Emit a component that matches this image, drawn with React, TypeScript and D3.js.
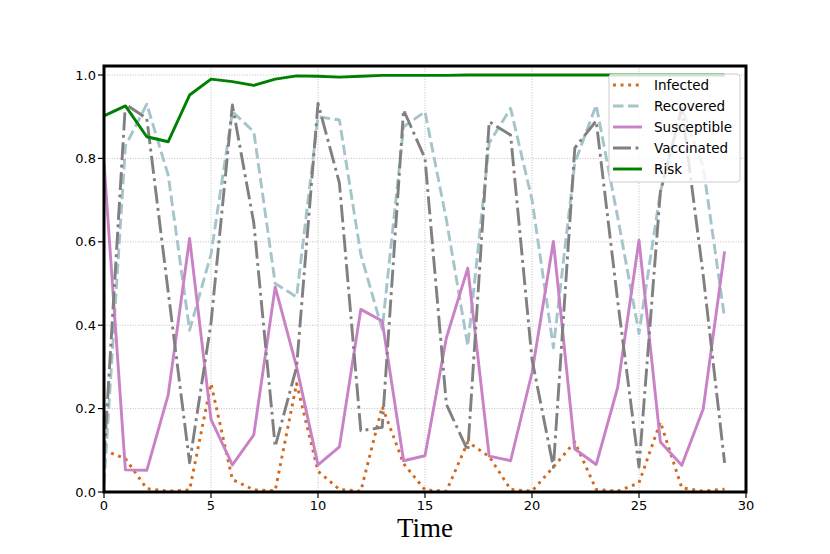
import React from "react";
import * as d3 from "d3";

// time steps 0..29
const steps = d3.range(0, 30);

const infected = [0.1, 0.08, 0.008, 0.002, 0.005, 0.26, 0.03, 0.005, 0.003, 0.26, 0.05, 0.006, 0.002, 0.205, 0.068, 0.005, 0.002, 0.12, 0.085, 0.006, 0.002, 0.06, 0.12, 0.006, 0.002, 0.022, 0.168, 0.01, 0.002, 0.007];
const recovered = [0.02, 0.83, 0.93, 0.76, 0.388, 0.57, 0.912, 0.864, 0.5, 0.468, 0.9, 0.892, 0.57, 0.39, 0.876, 0.912, 0.653, 0.35, 0.837, 0.92, 0.701, 0.346, 0.789, 0.928, 0.66, 0.38, 0.72, 0.92, 0.78, 0.417];
const susceptible = [0.79, 0.053, 0.052, 0.233, 0.608, 0.174, 0.065, 0.137, 0.492, 0.3, 0.065, 0.108, 0.438, 0.41, 0.075, 0.087, 0.37, 0.537, 0.086, 0.075, 0.286, 0.601, 0.103, 0.066, 0.25, 0.604, 0.12, 0.064, 0.199, 0.577];
const vaccinated = [0.08, 0.93, 0.896, 0.48, 0.07, 0.405, 0.928, 0.645, 0.109, 0.3, 0.932, 0.741, 0.147, 0.155, 0.916, 0.8, 0.21, 0.099, 0.888, 0.856, 0.318, 0.059, 0.825, 0.89, 0.46, 0.06, 0.72, 0.92, 0.52, 0.07];
const risk = [0.902, 0.926, 0.852, 0.84, 0.952, 0.99, 0.984, 0.975, 0.99, 0.998, 0.997, 0.995, 0.997, 0.999, 0.999, 0.999, 0.999, 1.0, 1.0, 1.0, 1.0, 1.0, 1.0, 1.0, 1.0, 1.0, 1.0, 1.0, 1.0, 1.0];

const xTicks = [0, 5, 10, 15, 20, 25, 30];
const yTicks = [0, 0.2, 0.4, 0.6, 0.8, 1.0];

const series = [
  { name: "Infected", values: infected, color: "#d2691e", dash: "2.9 4.7" },
  { name: "Recovered", values: recovered, color: "#a5c5ca", dash: "10.5 4.5" },
  { name: "Susceptible", values: susceptible, color: "#c982c6", dash: "" },
  { name: "Vaccinated", values: vaccinated, color: "#808080", dash: "18 4.5 2.9 4.5" },
  { name: "Risk", values: risk, color: "#008000", dash: "" },
];

const W = 830;
const H = 554;
const left = 104, right = 746, top = 66, bottom = 492;

export default function App() {
  const x = d3.scaleLinear().domain([0, 30]).range([left, right]);
  const y = d3.scaleLinear().domain([0, 1.0216]).range([bottom, top]);

  const line = d3
    .line<number>()
    .x((_, i) => x(steps[i]))
    .y((d) => y(d));

  const font = "'DejaVu Sans', sans-serif";

  // legend layout
  const lgX = 609, lgY = 74, lgW = 131, lgH = 108, rowH = 21;

  return (
    <div style={{ position: "fixed", left: 0, top: 0 }}>
      <svg width={W} height={H} style={{ display: "block", background: "#fff" }}>
        <defs>
          <clipPath id="plot">
            <rect x={left} y={top} width={right - left} height={bottom - top} />
          </clipPath>
        </defs>

        {/* grid */}
        <g stroke="#b0b0b0" strokeWidth={0.8} strokeDasharray="1 1.6">
          {xTicks.map((t) => (
            <line key={"gx" + t} x1={x(t)} x2={x(t)} y1={top} y2={bottom} />
          ))}
          {yTicks.map((t) => (
            <line key={"gy" + t} x1={left} x2={right} y1={y(t)} y2={y(t)} />
          ))}
        </g>

        {/* series */}
        <g clipPath="url(#plot)" fill="none">
          {series.map((s) => (
            <path
              key={s.name}
              d={line(s.values) || ""}
              stroke={s.color}
              strokeWidth={2.9}
              strokeDasharray={s.dash || undefined}
              strokeLinejoin="round"
            />
          ))}
        </g>

        {/* legend */}
        <g>
          <rect x={lgX} y={lgY} width={lgW} height={lgH} rx={3} fill="#fff" fillOpacity={0.8} stroke="#cccccc" strokeWidth={1} />
          {series.map((s, i) => {
            const cy = lgY + 11 + i * rowH;
            return (
              <g key={"lg" + s.name}>
                <line x1={lgX + 4} x2={lgX + 33} y1={cy} y2={cy} stroke={s.color} strokeWidth={2.9} strokeDasharray={s.dash || undefined} />
                <text x={lgX + 45} y={cy} dy="0.35em" fontFamily={font} fontSize={13.5} fill="#000">
                  {s.name}
                </text>
              </g>
            );
          })}
        </g>

        {/* axes box */}
        <rect x={left} y={top} width={right - left} height={bottom - top} fill="none" stroke="#000" strokeWidth={3} />

        {/* x ticks */}
        <g fontFamily={font} fontSize={13} textAnchor="middle">
          {xTicks.map((t) => (
            <g key={"xt" + t}>
              <line x1={x(t)} x2={x(t)} y1={bottom} y2={bottom + 6} stroke="#000" strokeWidth={1.2} />
              <text x={x(t)} y={bottom + 18}>{t}</text>
            </g>
          ))}
        </g>

        {/* y ticks */}
        <g fontFamily={font} fontSize={13} textAnchor="end">
          {yTicks.map((t) => (
            <g key={"yt" + t}>
              <line x1={left - 6} x2={left} y1={y(t)} y2={y(t)} stroke="#000" strokeWidth={1.2} />
              <text x={left - 8} y={y(t)} dy="0.35em">{t.toFixed(1)}</text>
            </g>
          ))}
        </g>

        <text x={(left + right) / 2} y={537} textAnchor="middle" fontFamily="'Liberation Serif', 'Times New Roman', serif" fontSize={27}>
          Time
        </text>
      </svg>
    </div>
  );
}
